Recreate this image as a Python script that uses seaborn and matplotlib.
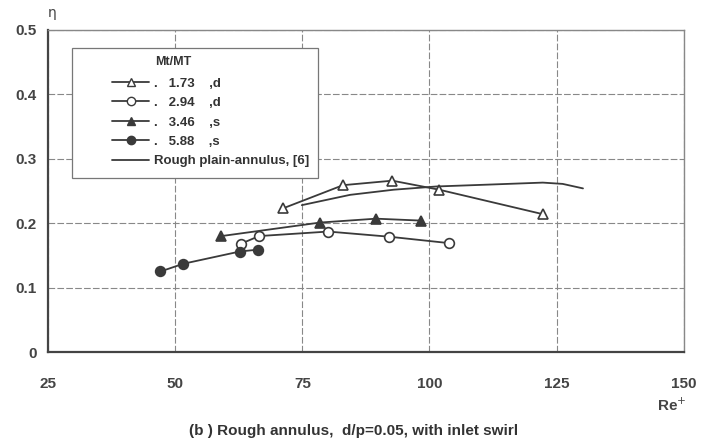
import matplotlib
matplotlib.use("Agg")
import matplotlib.pyplot as plt
import seaborn as sns
import pandas as pd
from matplotlib.lines import Line2D
from matplotlib.patches import Rectangle

# Data
re_173 = [71.2, 83.0, 92.7, 101.9, 122.3]
eta_173 = [0.223, 0.259, 0.266, 0.252, 0.214]
re_294 = [62.9, 66.5, 80.1, 92.1, 103.9]
eta_294 = [0.168, 0.180, 0.187, 0.179, 0.169]
re_346 = [59.1, 78.5, 89.5, 98.4]
eta_346 = [0.180, 0.201, 0.207, 0.204]
re_588 = [47.1, 51.6, 62.7, 66.3]
eta_588 = [0.125, 0.137, 0.156, 0.159]
re_plain = [74.9, 84.4, 93.0, 101.4, 112.0, 122.3, 126.2, 130.2]
eta_plain = [0.228, 0.244, 0.252, 0.257, 0.260, 0.263, 0.261, 0.254]

labels = [".   1.73    ,d", ".   2.94    ,d", ".   3.46    ,s", ".   5.88    ,s",
          "Rough plain-annulus, [6]"]
x_ticks = [25, 50, 75, 100, 125, 150]
y_ticks = [0, 0.1, 0.2, 0.3, 0.4, 0.5]
y_ticklabels = ["0", "0.1", "0.2", "0.3", "0.4", "0.5"]

sns.set_style("white")
plt.rcParams['font.family'] = ['Liberation Sans', 'DejaVu Sans']

fig = plt.figure(figsize=(7.07, 4.43), dpi=100)
ax = fig.add_axes([0.068, 0.2054, 0.899, 0.727])

lc = "#3a3a3a"
series = [
    (re_173, eta_173, "^", "white"),
    (re_294, eta_294, "o", "white"),
    (re_346, eta_346, "^", lc),
    (re_588, eta_588, "o", lc),
]
for (xs, ys, m, fc) in series:
    df = pd.DataFrame({"x": xs, "y": ys})
    sns.lineplot(data=df, x="x", y="y", ax=ax, sort=False, color=lc, lw=1.3,
                 marker=m, markersize=7, markerfacecolor=fc, markeredgecolor=lc,
                 markeredgewidth=1.2)
dfp = pd.DataFrame({"x": re_plain, "y": eta_plain})
sns.lineplot(data=dfp, x="x", y="y", ax=ax, sort=False, color=lc, lw=1.3)

ax.set_xlim(25, 150)
ax.set_ylim(0, 0.5)
ax.set_xticks(x_ticks)
ax.set_yticks(y_ticks)
ax.set_xticklabels([str(v) for v in x_ticks], fontsize=11, fontweight="bold", color="#444")
ax.set_yticklabels(y_ticklabels, fontsize=11, fontweight="bold", color="#444")
ax.tick_params(axis="x", pad=14, length=4, direction="out", color="#555")
ax.tick_params(axis="y", pad=4, length=4, direction="out", color="#555")
ax.set_xlabel("")
ax.set_ylabel("")
ax.grid(True, color="#888", lw=0.8, ls=(0, (6, 2)))
for s in ["top", "right"]:
    ax.spines[s].set_color("#888")
    ax.spines[s].set_linewidth(1.0)
for s in ["left", "bottom"]:
    ax.spines[s].set_color("#444")
    ax.spines[s].set_linewidth(1.6)

# Legend frame drawn manually
ax.add_patch(Rectangle((0.0377, 0.540), 0.3868, 0.404, transform=ax.transAxes,
                       facecolor="white", edgecolor="#777", lw=0.9, zorder=4))
handles = []
for (xs, ys, m, fc) in series:
    handles.append(Line2D([], [], color=lc, lw=1.3, marker=m, markersize=6,
                          markerfacecolor=fc, markeredgecolor=lc))
handles.append(Line2D([], [], color=lc, lw=1.3))
leg = ax.legend(handles, labels, loc="upper left",
                bbox_to_anchor=(0.101, 0.853), frameon=False,
                prop={"size": 9.5, "weight": "bold"}, handlelength=2.8,
                handletextpad=0.4, borderpad=0, borderaxespad=0,
                labelspacing=0.55)
leg.set_zorder(5)
for t in leg.get_texts():
    t.set_color("#333")
ax.text(0.168, 0.900, "Mt/MT", transform=ax.transAxes, fontsize=9,
        fontweight="bold", color="#333", ha="left", va="center", zorder=6)

fig.text(0.068, 0.955, "η", fontsize=10, color="#444", ha="left", va="bottom",
         family=["DejaVu Sans"])
fig.text(0.950, 0.066, "Re$^{+}$", fontsize=11, fontweight="bold",
         color="#444", ha="center", va="bottom")
fig.text(0.5, 0.012, "(b ) Rough annulus,  d/p=0.05, with inlet swirl",
         fontsize=11, fontweight="bold", color="#333", ha="center", va="bottom")

fig.savefig("out.png", dpi=100, facecolor="white")
